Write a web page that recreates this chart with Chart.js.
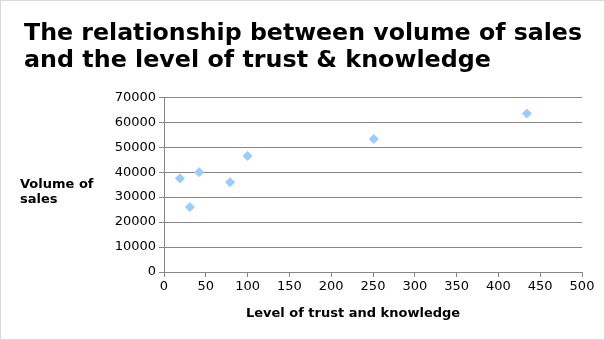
<!DOCTYPE html>
<html>
<head>
<meta charset="utf-8">
<script src="https://cdn.jsdelivr.net/npm/chart.js@4"></script>
<style>
html,body{margin:0;padding:0;background:#fff;}
#wrap{width:603px;height:338px;border:1px solid #d9d9d9;}
</style>
</head>
<body>
<div id="wrap"><canvas id="c" width="603" height="338"></canvas></div>
<script>
const trust = [19, 31, 42, 79, 100, 251, 434];
const sales = [37500, 26000, 40000, 36000, 46500, 53300, 63500];
const titleLines = ['The relationship between volume of sales', 'and the level of trust & knowledge'];
const xTitle = 'Level of trust and knowledge';
const yTitle = ['Volume of', 'sales'];

const points = trust.map((t, i) => ({x: t, y: sales[i]}));
const gridCol = '#878787';

const axisTitles = {
  id: 'axisTitles',
  afterDraw(chart){
    const c = chart.ctx, a = chart.chartArea;
    c.save();
    c.fillStyle = '#000';
    c.font = 'bold 13px "DejaVu Sans"';
    c.textBaseline = 'middle';
    c.textAlign = 'left';
    const mid = a.top + (a.bottom - a.top) / 2;
    c.fillText(yTitle[0], 19, mid);
    c.fillText(yTitle[1], 19, mid + 15);
    c.textAlign = 'center';
    c.fillText(xTitle, 352, a.bottom + 42);
    c.restore();
  }
};

new Chart(document.getElementById('c'), {
  type: 'scatter',
  data: {
    datasets: [{
      data: points,
      pointStyle: 'rectRot',
      pointRadius: 4.5,
      pointHoverRadius: 4.5,
      backgroundColor: '#99CCFF',
      borderColor: '#99CCFF',
      borderWidth: 1
    }]
  },
  options: {
    responsive: false,
    animation: false,
    layout: {padding: {left: 23, right: 22, top: 0, bottom: 0}},
    plugins: {
      legend: {display: false},
      tooltip: {enabled: false},
      title: {
        display: true,
        text: titleLines,
        align: 'start',
        color: '#000',
        font: {family: 'DejaVu Sans', size: 23.8, weight: 'bold', lineHeight: 1.14},
        padding: {top: 19, bottom: 23}
      }
    },
    scales: {
      x: {
        type: 'linear',
        min: 0, max: 500,
        ticks: {stepSize: 50, color: '#000', font: {family: 'DejaVu Sans', size: 13}, padding: 2, maxRotation: 0},
        grid: {drawOnChartArea: false, drawTicks: true, tickLength: 5, color: gridCol},
        border: {color: gridCol},
        afterFit(s){ s.height = 67; }
      },
      y: {
        min: 0, max: 70000,
        ticks: {stepSize: 10000, color: '#000', font: {family: 'DejaVu Sans', size: 13}, padding: 3,
          callback: v => String(v)},
        grid: {color: gridCol, tickLength: 5},
        border: {color: gridCol},
        afterFit(s){ s.width = 140; }
      }
    }
  },
  plugins: [axisTitles]
});
</script>
</body>
</html>
